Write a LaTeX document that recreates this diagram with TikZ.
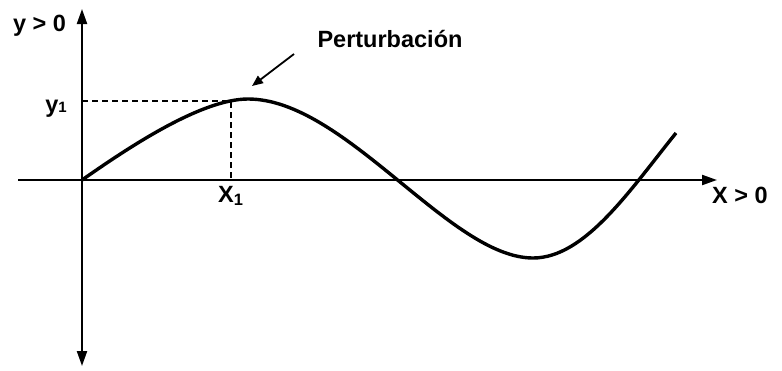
\documentclass[tikz,border=0pt]{standalone}
\usepackage{fontspec}
\setmainfont{Liberation Sans}
\usetikzlibrary{arrows.meta}
\tikzset{
  axis/.style={line width=2.2pt,-{Triangle[length=15pt,width=10pt]}},
  wave/.style={line width=3.4pt,line join=round},
  guide/.style={line width=1.4pt,dash pattern=on 6pt off 4pt},
  lbl/.style={inner sep=0pt,font=\fontsize{23.5}{28}\selectfont\bfseries}
}
\begin{document}
\begin{tikzpicture}[x=1pt,y=-1pt]
    \useasboundingbox (0,0) rectangle (782,370);
    % ejes
    \coordinate (O) at (82,180);
    \coordinate (xmin) at (18,180);
    \coordinate (xmax) at (717,180);
    \coordinate (ymax) at (82,9);
    \coordinate (ymin) at (82,366);
    \draw[axis] (xmin)--(xmax);
    \draw[axis] (O)--(ymax);
    \draw[axis] (O)--(ymin);
    \node[lbl,anchor=base] (ylab) at (39.5,31) {y > 0};
    \node[lbl,anchor=base west] (xlab) at (712,203) {X > 0};
    % punto (x1,y1)
    \coordinate (P) at (231,101);
    \coordinate (Px) at (231,180);
    \coordinate (Py) at (82,101);
    \draw[guide] (Py)--(P)--(Px);
    \node[lbl,anchor=base east] (y1) at (67,112) {y{\fontsize{15}{15}\selectfont 1}};
    \node[lbl,anchor=base west] (x1) at (218,202) {X\textsubscript{1}};
    % onda
    \coordinate (top) at (248,99);
    \coordinate (low) at (533,258);
    \coordinate (tail) at (676,133);
    \draw[wave] (O) .. controls (125,150) and (200,99) .. (top)
        .. controls (345,99) and (450,258) .. (low)
        .. controls (585,258) and (630,190) .. (tail);
    % perturbacion
    \node[lbl,anchor=base] (pert) at (390,47) {Perturbación};
    \coordinate (aStart) at (294,54);
    \coordinate (aEnd) at (252,86);
    \draw[line width=1.8pt,-{Triangle[length=11pt,width=9pt]}] (aStart)--(aEnd);
\end{tikzpicture}
\end{document}
